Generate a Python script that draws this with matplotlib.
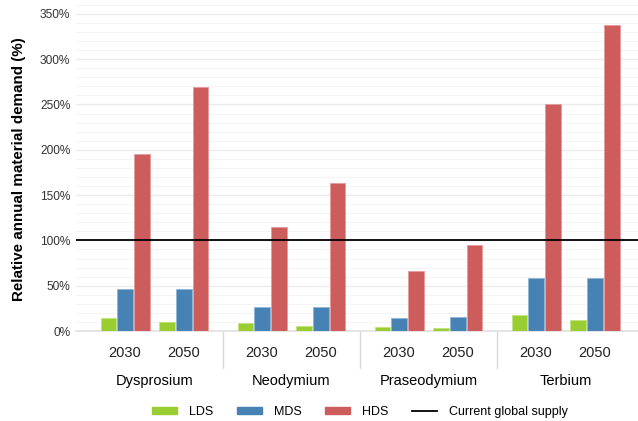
import matplotlib
matplotlib.use("Agg")
import matplotlib.pyplot as plt
from matplotlib.patches import Patch
from matplotlib.lines import Line2D
from matplotlib.ticker import MultipleLocator, FuncFormatter

plt.rcParams["font.family"] = ["Liberation Sans", "DejaVu Sans"]

# data (% of current global supply)
elements = ["Dysprosium", "Neodymium", "Praseodymium", "Terbium"]
years = ["2030", "2050"]
scenarios = ["LDS", "MDS", "HDS"]
lds = [[14, 9.5], [8.5, 5.5], [4.7, 3.6], [18, 11.7]]
mds = [[46, 46], [26, 27], [14, 15.4], [59, 59]]
hds = [[195, 269], [115, 163], [66, 95], [250, 338]]
supply = 100

colors = {"LDS": "#9acd32", "MDS": "#4682b4", "HDS": "#cd5c5c"}
edges = {"LDS": "#c2e37f", "MDS": "#8fb6d6", "HDS": "#e69a9a"}
series = {"LDS": lds, "MDS": mds, "HDS": hds}

fig = plt.figure(figsize=(6.38, 4.21), dpi=100)
ax = fig.add_axes([76 / 638, 1 - 331 / 421, 1 - 76 / 638, 328 / 421])

step = 0.121
width = 0.116
cluster_off = 0.215
for g, el in enumerate(elements):
    for j, yr in enumerate(years):
        cx = g + 0.5 + (j - 0.5) * 2 * cluster_off
        for k, sc in enumerate(scenarios):
            ax.bar(cx + (k - 1) * step, series[sc][g][j], width=width,
                   color=colors[sc], edgecolor=edges[sc], linewidth=0.6,
                   zorder=3)
        ax.annotate(yr, xy=(cx, 0), xycoords=("data", "axes fraction"),
                    xytext=(0, -15.8), textcoords="offset points",
                    ha="center", va="center", fontsize=10.5, color="#222222")
    ax.annotate(el, xy=(g + 0.5, 0), xycoords=("data", "axes fraction"),
                xytext=(0, -36), textcoords="offset points",
                ha="center", va="center", fontsize=10.5, color="black")

# facet dividers
for g in range(1, len(elements)):
    ax.plot([g, g], [0, -0.113], transform=ax.get_xaxis_transform(),
            color="#d9d9d9", lw=1, clip_on=False)

ax.axhline(supply, color="black", lw=1.3, zorder=4)

ax.set_xlim(-0.073, 4.029)
ax.set_ylim(0, 362)
ax.set_xticks([])
ax.yaxis.set_major_locator(MultipleLocator(50))
ax.yaxis.set_minor_locator(MultipleLocator(10))
ax.yaxis.set_major_formatter(FuncFormatter(lambda v, p: f"{v:.0f}%"))
ax.tick_params(axis="y", which="both", length=0, labelsize=8.6,
               labelcolor="#333333", pad=4)
ax.grid(axis="y", which="major", color="#ebebeb", lw=1.0, zorder=0)
ax.grid(axis="y", which="minor", color="#f4f4f4", lw=0.7, zorder=0)
for s in ["top", "right", "left"]:
    ax.spines[s].set_visible(False)
ax.spines["bottom"].set_color("#e0e0e0")
ax.spines["bottom"].set_linewidth(1.2)
ax.set_ylabel("Relative annual material demand (%)", fontsize=10.9,
              fontweight="bold")
ax.yaxis.set_label_coords(-0.089, 0.494)

handles = [Patch(facecolor=colors[s], edgecolor=colors[s], label=s) for s in scenarios]
handles.append(Line2D([], [], color="black", lw=1.3, label="Current global supply"))
fig.legend(handles=handles, loc="center", bbox_to_anchor=(360 / 638, 9 / 421),
           ncol=4, frameon=False, fontsize=9, handlelength=2.0,
           handleheight=0.56, columnspacing=1.9, handletextpad=0.95)

fig.savefig("out.png", dpi=100)
